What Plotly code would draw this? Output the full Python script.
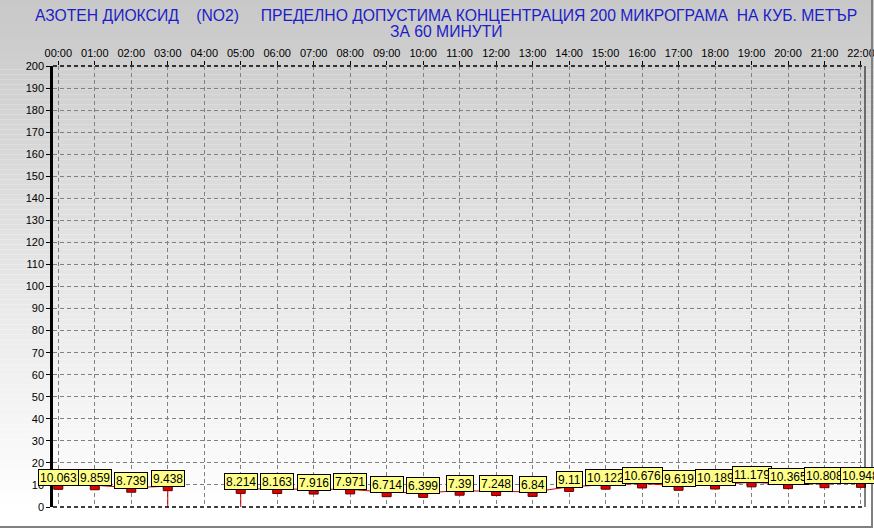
import plotly.graph_objects as go

# ---------------- data ----------------
hours = ["00:00", "01:00", "02:00", "03:00", "04:00", "05:00", "06:00", "07:00",
         "08:00", "09:00", "10:00", "11:00", "12:00", "13:00", "14:00", "15:00",
         "16:00", "17:00", "18:00", "19:00", "20:00", "21:00", "22:00"]
values = [10.063, 9.859, 8.739, 9.438, None, 8.214, 8.163, 7.916, 7.971, 6.714,
          6.399, 7.39, 7.248, 6.84, 9.11, 10.122, 10.676, 9.619, 10.189, 11.179,
          10.365, 10.808, 10.948]
y_ticks = list(range(0, 201, 10))
title_line1 = ("АЗОТЕН ДИОКСИД\u00a0\u00a0\u00a0\u00a0(NO2)\u00a0\u00a0\u00a0\u00a0\u00a0"
               "ПРЕДЕЛНО ДОПУСТИМА КОНЦЕНТРАЦИЯ 200 МИКРОГРАМА\u00a0\u00a0НА КУБ. МЕТЪР")
title_line2 = "ЗА 60 МИНУТИ"

# ---------------- geometry ----------------
W, H = 874, 529
L, R, T, B = 53, 9, 66, 22
PW, PH = W - L - R, H - T - B


def px(x):
    return (x - L) / PW


def py(y):
    return (H - B - y) / PH


x_pos = list(range(len(hours)))

# line with drop lines at gaps
lx, ly = [], []
prev_missing = False
for i, v in enumerate(values):
    if v is None:
        if lx and not prev_missing:
            lx += [i - 1, None]
            ly += [0, None]
        prev_missing = True
    else:
        if prev_missing:
            lx.append(i)
            ly.append(0)
        lx.append(i)
        ly.append(v)
        prev_missing = False

mx = [x for x, v in zip(x_pos, values) if v is not None]
my = [v for v in values if v is not None]

fig = go.Figure()
fig.add_trace(go.Scatter(x=lx, y=ly, mode="lines",
                         line=dict(color="#cc0000", width=1),
                         hoverinfo="skip", showlegend=False, cliponaxis=False))
fig.add_trace(go.Scatter(x=mx, y=my, mode="markers",
                         marker=dict(symbol="square", size=9, color="#dd0000",
                                     line=dict(color="#600000", width=1)),
                         showlegend=False, cliponaxis=False))

annotations = []
for x, v in zip(mx, my):
    annotations.append(dict(
        x=x, y=v, xref="x", yref="y", text=f"{v:g}", showarrow=False,
        yanchor="bottom", xanchor="center", yshift=-1,
        bgcolor="#ffff88", bordercolor="#000000", borderwidth=1, borderpad=1,
        height=13,
        font=dict(family="Arial, Liberation Sans", size=12, color="#000000")))

annotations.append(dict(x=px(446), y=py(15), xref="paper", yref="paper",
                        text=title_line1, showarrow=False, xanchor="center",
                        yanchor="middle",
                        font=dict(family="Arial, Liberation Sans", size=15.7, color="#1c1cc8")))
annotations.append(dict(x=px(446), y=py(31), xref="paper", yref="paper",
                        text=title_line2, showarrow=False, xanchor="center",
                        yanchor="middle",
                        font=dict(family="Arial, Liberation Sans", size=15.7, color="#1c1cc8")))

shapes = []
# gradient background
N = 106
for k in range(N):
    y0 = k * H / N
    y1 = (k + 1) * H / N
    ym = (y0 + y1) / 2
    c = int(round(min(255, 200 + 55 * ym / 510)))
    shapes.append(dict(type="rect", xref="paper", yref="paper",
                       x0=px(0), x1=px(W), y0=py(y1), y1=py(y0) if k else py(-1),
                       fillcolor=f"rgb({c},{c},{c})", line=dict(width=0),
                       layer="below"))
# plot frame
shapes.append(dict(type="line", xref="paper", yref="paper", x0=0, x1=1, y0=1, y1=1,
                   line=dict(color="#000000", width=1.5, dash="4px,3px")))
shapes.append(dict(type="line", xref="paper", yref="paper", x0=0, x1=1, y0=0, y1=0,
                   line=dict(color="#000000", width=1.5, dash="4px,3px")))
shapes.append(dict(type="line", xref="paper", yref="paper", x0=1, x1=1, y0=0, y1=1,
                   line=dict(color="#000000", width=1)))
# window frame
shapes.append(dict(type="line", xref="paper", yref="paper", x0=px(0), x1=px(873),
                   y0=py(527), y1=py(527), line=dict(color="#808080", width=2)))
shapes.append(dict(type="line", xref="paper", yref="paper", x0=px(872), x1=px(872),
                   y0=py(0), y1=py(527), line=dict(color="#808080", width=2)))

fig.update_layout(
    width=W, height=H, autosize=False,
    margin=dict(l=L, r=R, t=T, b=B, pad=0, autoexpand=False),
    paper_bgcolor="#ffffff", plot_bgcolor="rgba(0,0,0,0)",
    font=dict(family="Arial, Liberation Sans", size=11, color="#000000"),
    showlegend=False,
    annotations=annotations, shapes=shapes,
    xaxis=dict(range=[-0.145, 22.11], side="top", tickmode="array",
               tickvals=x_pos, ticktext=hours, showgrid=True,
               gridcolor="#808080", gridwidth=1, griddash="4px,3px",
               ticks="outside", ticklen=4, tickcolor="#000000",
               showline=False, zeroline=False, ticklabeloverflow="allow",
               automargin=False,
               tickfont=dict(size=11, color="#000000")),
    yaxis=dict(range=[0, 200], tickmode="array", tickvals=y_ticks,
               showgrid=True, gridcolor="#808080", gridwidth=1, griddash="4px,3px",
               ticks="outside", ticklen=4, tickcolor="#000000",
               showline=True, linecolor="#000000", linewidth=2.5,
               automargin=False,
               zeroline=False, tickfont=dict(size=11, color="#000000")),
)

fig.write_html("out.html", config={"displayModeBar": False},
               post_script="document.body.style.margin='0';document.body.style.overflow='hidden';")
